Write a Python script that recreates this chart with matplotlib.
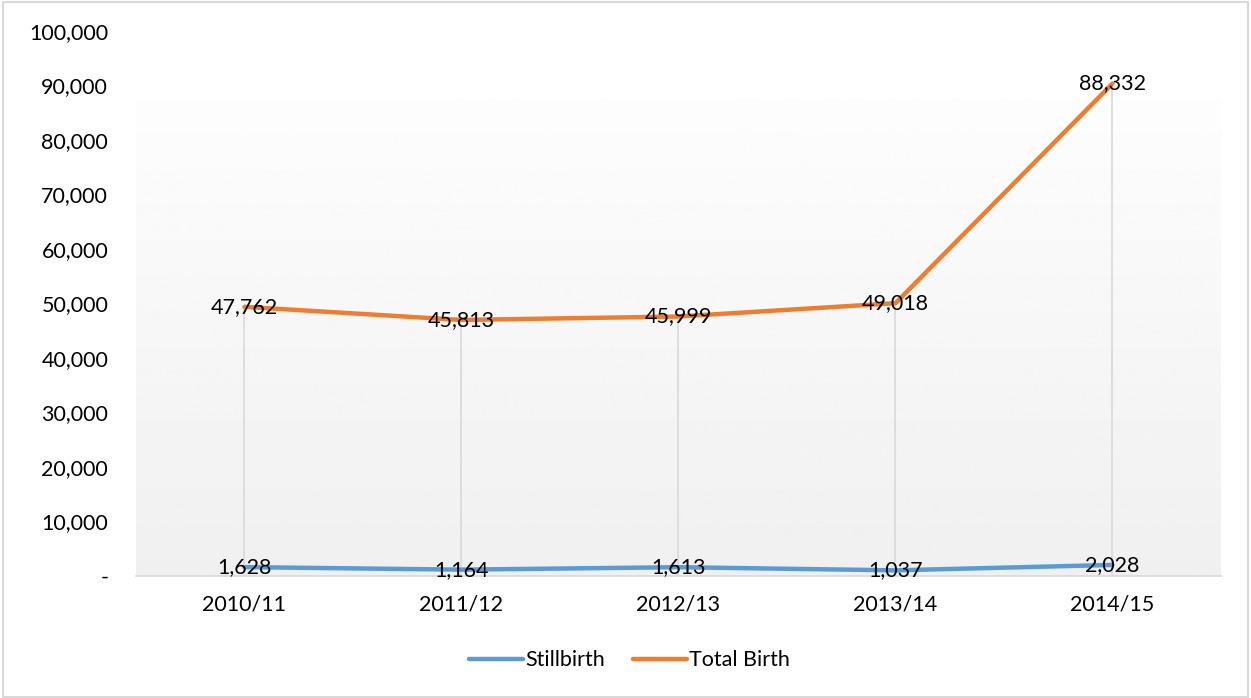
import numpy as np
import matplotlib.pyplot as plt
from matplotlib.patches import Rectangle
from matplotlib.ticker import FuncFormatter

years = ["2010/11", "2011/12", "2012/13", "2013/14", "2014/15"]
stillbirth = [1628, 1164, 1613, 1037, 2028]
total_birth = [47762, 45813, 45999, 49018, 88332]

BLUE = "#5b9bd5"
ORANGE = "#ed7d31"
GRID = "#d9d9d9"
FS = 15.5


def fmt_thousands(v, pos):
    if v == 0:
        return "-"
    return f"{v:,.0f}"


def main():
    plt.rcParams["font.family"] = ["Lato", "DejaVu Sans"]

    fig = plt.figure(figsize=(12.51, 6.98), dpi=100)
    ax = fig.add_axes([0.1087, 0.1748, 0.8673, 0.7808])

    x = np.arange(len(years))
    # stacked line: total birth is drawn on top of stillbirth
    stacked = np.array(stillbirth) + np.array(total_birth)

    ax.set_xlim(-0.5, len(years) - 0.5)
    ax.set_ylim(0, 100000)

    # plot area fill: white at the top fading to light grey
    grad = np.linspace(0.992, 0.94, 256).reshape(-1, 1)
    ax.imshow(grad, cmap="gray", vmin=0, vmax=1, aspect="auto",
              extent=(-0.5, len(years) - 0.5, 0, 87500), origin="upper",
              zorder=0)

    # drop lines from the top series to the axis
    for xi, yi in zip(x, stacked):
        ax.plot([xi, xi], [0, yi], color=GRID, lw=1.2, zorder=1)

    ax.plot(x, stillbirth, color=BLUE, lw=3.2, label="Stillbirth",
            solid_capstyle="round", zorder=3)
    ax.plot(x, stacked, color=ORANGE, lw=3.2, label="Total Birth",
            solid_capstyle="round", zorder=3)

    for xi, yi, v in zip(x, stillbirth, stillbirth):
        ax.text(xi, yi, f"{v:,}", ha="center", va="center",
                fontsize=FS, color="black", zorder=4)
    for xi, yi, v in zip(x, stacked, total_birth):
        ax.text(xi, yi, f"{v:,}", ha="center", va="center",
                fontsize=FS, color="black", zorder=4)

    ax.set_xticks(x)
    ax.set_xticklabels(years)
    ax.set_yticks(np.arange(0, 100001, 10000))
    ax.yaxis.set_major_formatter(FuncFormatter(fmt_thousands))
    ax.tick_params(axis="both", length=0, labelsize=FS, colors="black")
    ax.tick_params(axis="x", pad=13)
    ax.tick_params(axis="y", pad=20)

    for side in ["top", "right", "left"]:
        ax.spines[side].set_visible(False)
    ax.spines["bottom"].set_color(GRID)
    ax.spines["bottom"].set_linewidth(1.2)

    # legend centred on the whole chart, below the axis labels
    ax.legend(loc="center", bbox_to_anchor=(0.455, -0.155), ncol=2,
              frameon=False, fontsize=FS, handlelength=2.5,
              handletextpad=0.1, columnspacing=1.3)

    # light border round the whole chart
    fig.patches.append(Rectangle((0.002, 0.002), 0.996, 0.995,
                                 transform=fig.transFigure, fill=False,
                                 edgecolor=GRID, lw=1.5))

    fig.savefig("out.png", dpi=100)


if __name__ == "__main__":
    main()
